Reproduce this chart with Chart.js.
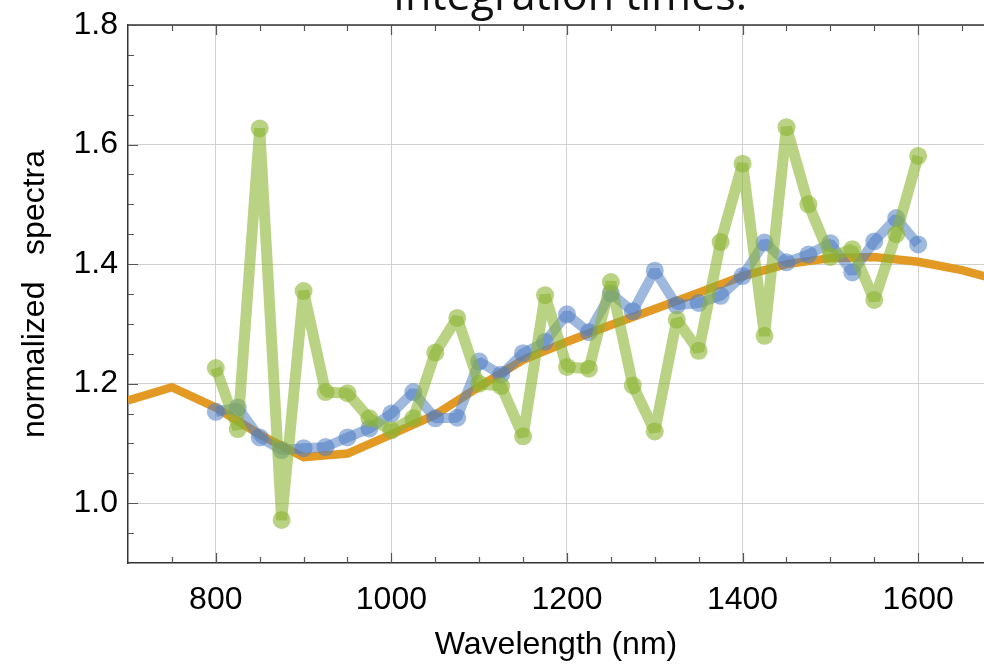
<!DOCTYPE html>
<html>
<head>
<meta charset="utf-8">
<script src="https://cdn.jsdelivr.net/npm/chart.js@4/dist/chart.umd.min.js"></script>
<style>
  html, body { margin: 0; padding: 0; background: #fff; overflow: hidden; }
  canvas { display: block; }
</style>
</head>
<body>
<canvas id="spectra" width="984" height="664"></canvas>
<script>
// ── Datos ──────────────────────────────────────
const wavelength = [800, 825, 850, 875, 900, 925, 950, 975, 1000, 1025, 1050, 1075,
  1100, 1125, 1150, 1175, 1200, 1225, 1250, 1275, 1300, 1325, 1350, 1375,
  1400, 1425, 1450, 1475, 1500, 1525, 1550, 1575, 1600];

const greenSpectrum = [1.226, 1.124, 1.627, 0.972, 1.355, 1.186, 1.184, 1.142, 1.122, 1.142, 1.252, 1.31,
  1.2, 1.196, 1.112, 1.348, 1.228, 1.225, 1.37, 1.197, 1.12, 1.307, 1.255, 1.437,
  1.568, 1.28, 1.629, 1.5, 1.412, 1.425, 1.34, 1.45, 1.581];

const blueSpectrum = [1.153, 1.16, 1.11, 1.089, 1.092, 1.094, 1.11, 1.125, 1.15, 1.186, 1.142, 1.143,
  1.237, 1.215, 1.251, 1.27, 1.316, 1.286, 1.351, 1.321, 1.389, 1.331, 1.335, 1.347,
  1.38, 1.436, 1.403, 1.416, 1.435, 1.386, 1.438, 1.477, 1.433];

const refWavelength = [700, 750, 800, 850, 900, 950, 1000, 1050, 1100, 1150, 1200, 1250,
  1300, 1350, 1400, 1450, 1500, 1550, 1600, 1650, 1700];
const refSpectrum = [1.172, 1.194, 1.16, 1.115, 1.077, 1.083, 1.115, 1.148, 1.195, 1.24, 1.27, 1.298,
  1.325, 1.352, 1.38, 1.4, 1.41, 1.412, 1.404, 1.39, 1.37];

const xMajor = [800, 1000, 1200, 1400, 1600];
const xMinor = [750, 850, 900, 950, 1050, 1100, 1150, 1250, 1300, 1350, 1450, 1500, 1550, 1650];
const yMajor = [1.0, 1.2, 1.4, 1.6, 1.8];
const yMinor = [0.95, 1.05, 1.1, 1.15, 1.25, 1.3, 1.35, 1.45, 1.5, 1.55, 1.65, 1.7, 1.75];

const FONT = "'Liberation Sans', Arial, sans-serif";
const GREEN = 'rgba(140,180,50,0.6)';
const BLUE = 'rgba(80,125,195,0.55)';
const ORANGE = '#e29a25';

const toPoints = (xs, ys) => xs.map((x, i) => ({ x, y: ys[i] }));

// Marco superior + marcas hacia dentro
const frameTicks = {
  id: 'frameTicks',
  beforeDatasetsDraw(chart) {
    const { ctx, chartArea: a, scales: { x, y } } = chart;
    ctx.save();
    ctx.strokeStyle = '#333';
    ctx.lineWidth = 1.5;
    ctx.beginPath();
    ctx.moveTo(a.left, a.top);
    ctx.lineTo(a.right, a.top);
    ctx.stroke();

    ctx.strokeStyle = '#555';
    ctx.lineWidth = 1.2;
    ctx.beginPath();
    const tickX = (v, len) => {
      const px = Math.round(x.getPixelForValue(v)) + 0.5;
      ctx.moveTo(px, a.bottom); ctx.lineTo(px, a.bottom - len);
      ctx.moveTo(px, a.top); ctx.lineTo(px, a.top + len);
    };
    const tickY = (v, len) => {
      const py = Math.round(y.getPixelForValue(v)) + 0.5;
      ctx.moveTo(a.left, py); ctx.lineTo(a.left + len, py);
    };
    xMajor.forEach(v => tickX(v, 10));
    xMinor.forEach(v => tickX(v, 6));
    yMajor.forEach(v => tickY(v, 10));
    yMinor.forEach(v => tickY(v, 6));
    ctx.stroke();
    ctx.restore();
  },
  afterDraw(chart) {
    const { ctx } = chart;
    ctx.save();
    ctx.fillStyle = '#111';
    ctx.font = "43px 'Open Sans', sans-serif";
    ctx.textAlign = 'center';
    ctx.textBaseline = 'alphabetic';
    ctx.fillText('Integration times.', 570, 10);
    ctx.restore();
  }
};

new Chart(document.getElementById('spectra'), {
  type: 'line',
  data: {
    datasets: [
      {
        data: toPoints(wavelength, greenSpectrum),
        borderColor: GREEN,
        borderWidth: 11,
        borderJoinStyle: 'bevel',
        pointRadius: 9,
        pointBorderWidth: 0,
        pointBackgroundColor: GREEN,
        tension: 0
      },
      {
        data: toPoints(wavelength, blueSpectrum),
        borderColor: BLUE,
        borderWidth: 10,
        borderJoinStyle: 'bevel',
        pointRadius: 9,
        pointBorderWidth: 0,
        pointBackgroundColor: BLUE,
        tension: 0
      },
      {
        data: toPoints(refWavelength, refSpectrum),
        borderColor: ORANGE,
        borderWidth: 8.5,
        pointRadius: 0,
        tension: 0
      }
    ]
  },
  options: {
    responsive: false,
    animation: false,
    events: [],
    layout: { autoPadding: false, padding: { top: 25, left: 0, right: 0, bottom: 0 } },
    plugins: { legend: { display: false }, tooltip: { enabled: false } },
    scales: {
      x: {
        type: 'linear',
        min: 700,
        max: 1675,
        afterBuildTicks: s => { s.ticks = xMajor.map(v => ({ value: v })); },
        afterFit: s => { s.height = 101; s.paddingLeft = 0; s.paddingRight = 0; },
        grid: { color: '#d0d0d0', lineWidth: 1, drawTicks: false },
        border: { color: '#333', width: 1.5 },
        ticks: {
          color: '#000',
          padding: 18,
          maxRotation: 0,
          font: { family: FONT, size: 32 },
          callback: v => String(v)
        },
        title: {
          display: true,
          text: 'Wavelength (nm)',
          color: '#000',
          padding: { top: 0, bottom: 0 },
          font: { family: FONT, size: 32, lineHeight: 1.2 }
        }
      },
      y: {
        min: 0.9,
        max: 1.8,
        afterBuildTicks: s => { s.ticks = yMajor.map(v => ({ value: v })); },
        afterFit: s => { s.width = 128; s.paddingTop = 0; s.paddingBottom = 0; },
        grid: { color: '#d0d0d0', lineWidth: 1, drawTicks: false },
        border: { color: '#333', width: 1.5 },
        ticks: {
          color: '#000',
          padding: 10,
          font: { family: FONT, size: 32 },
          callback: v => v.toFixed(1)
        },
        title: {
          display: true,
          text: 'normalized   spectra',
          color: '#000',
          padding: { top: 16, bottom: 0 },
          font: { family: FONT, size: 32, lineHeight: 1.2 }
        }
      }
    }
  },
  plugins: [frameTicks]
});
</script>
</body>
</html>
